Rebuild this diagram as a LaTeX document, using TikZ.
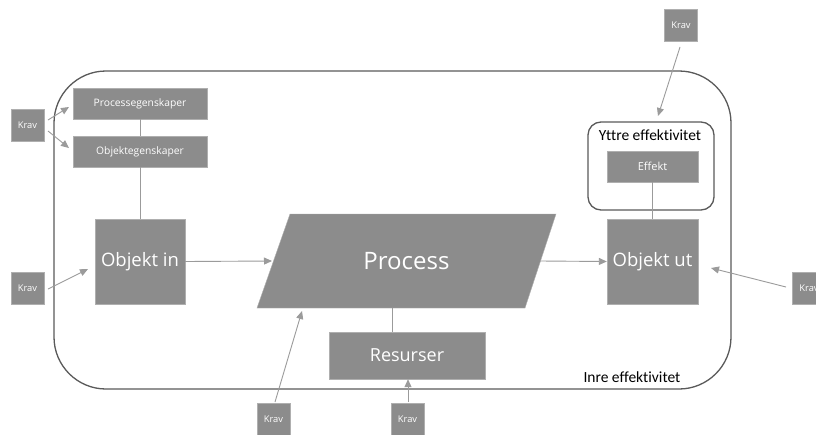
\documentclass[tikz,border=0pt]{standalone}
\usepackage{fontspec}
\setmainfont{Open Sans}
\newfontfamily\labfont[Ligatures=NoCommon]{Carlito}
\usetikzlibrary{arrows.meta,shapes.geometric}
\definecolor{boxgray}{RGB}{140,140,140}
\definecolor{linegray}{RGB}{155,155,155}
\definecolor{outl}{RGB}{90,90,90}
\tikzset{
  gbox/.style={fill=boxgray, draw=boxgray!70!white, line width=0.4pt, text=white, inner sep=0pt, align=center},
  kravbox/.style={gbox, minimum width=33pt, minimum height=32pt, font=\fontsize{9.3}{10}\selectfont},
  smallbox/.style={gbox, minimum height=31pt, font=\fontsize{10.3}{12}\selectfont},
  bigbox/.style={gbox, font=\fontsize{18.5}{21}\selectfont},
  arr/.style={draw=linegray, line width=0.9pt, -{Triangle[length=8pt,width=7pt]}},
  conn/.style={draw=linegray, line width=0.9pt},
  lab/.style={font=\labfont\fontsize{15.5}{18}\selectfont},
}
\begin{document}
\begin{tikzpicture}[x=1pt,y=-1pt]
\useasboundingbox (0,0) rectangle (816,434);
\fill[white] (0,0) rectangle (816,434);
% outer frame
\draw[outl, line width=1.3pt, rounded corners=52pt] (54,71) rectangle (731,389);
\node[lab, anchor=base west] (inre) at (580,382) {Inre effektivitet};
% yttre box
\draw[outl, line width=1.3pt, rounded corners=13pt] (588,122) rectangle (714,210);
\node[lab, anchor=base] (yttre) at (650,140) {Yttre effektivitet};
\coordinate (yttretop) at (658,116);

% boxes
\node[smallbox, minimum width=134pt] (pe) at (140,103.5) {Processegenskaper};
\node[smallbox, minimum width=134pt] (oe) at (140,151.5) {Objektegenskaper};
\node[bigbox, minimum width=90pt, minimum height=85pt] (oin) at (140,261.5) {Objekt in};
\node[bigbox, minimum width=91pt, minimum height=85pt] (out) at (652.5,261.5) {Objekt ut};
\node[smallbox, minimum width=91pt, font=\fontsize{11}{13}\selectfont] (eff) at (652.5,166.5) {Effekt};
\node[bigbox, minimum width=156pt, minimum height=47pt, font=\fontsize{18}{21}\selectfont] (res) at (407,355.5) {Resurser};
\path[gbox] (290,214) -- (556,214) -- (525,308) -- (257,308) -- cycle;
\node[text=white, font=\fontsize{24}{28}\selectfont] (proc) at (406.5,261) {Process};
\coordinate (procL) at (272,261);
\coordinate (procR) at (540,261);
\coordinate (procB) at (302,311);
\coordinate (procRes) at (392,308);

% Krav boxes
\node[kravbox] (k1) at (27.5,125.5) {Krav};
\node[kravbox] (k2) at (27.5,288) {Krav};
\node[kravbox] (k3) at (681,25) {Krav};
\node[kravbox] (k4) at (809,288) {Krav};
\node[kravbox] (k5) at (273.5,419) {Krav};
\node[kravbox] (k6) at (407.5,419) {Krav};

% connectors
\draw[conn] (pe.south) -- (oe.north);
\draw[conn] (oe.south) -- (oin.north);
\draw[conn] (eff.south) -- (out.north);
\draw[conn] (procRes) -- (res.north -| procRes);

\coordinate (k1a) at (48,120);
\coordinate (k1b) at (48,131);
\coordinate (pein) at (69,107);
\coordinate (oein) at (69,148);
\coordinate (k2a) at (48,289);
\coordinate (oinin) at (88,269);
\coordinate (k3a) at (680,47);
\coordinate (k4a) at (786,287);
\coordinate (outin) at (711,268);
\coordinate (k5a) at (275,402);
\coordinate (k6a) at (408,402);
\draw[arr] (k1a) -- (pein);
\draw[arr] (k1b) -- (oein);
\draw[arr] (k2a) -- (oinin);
\draw[arr] (oin.east) -- (procL);
\draw[arr] (procR) -- (out.west);
\draw[arr] (k3a) -- (yttretop);
\draw[arr] (k4a) -- (outin);
\draw[arr] (k5a) -- (procB);
\draw[arr] (k6a) -- (res.south -| k6a);
\end{tikzpicture}
\end{document}
